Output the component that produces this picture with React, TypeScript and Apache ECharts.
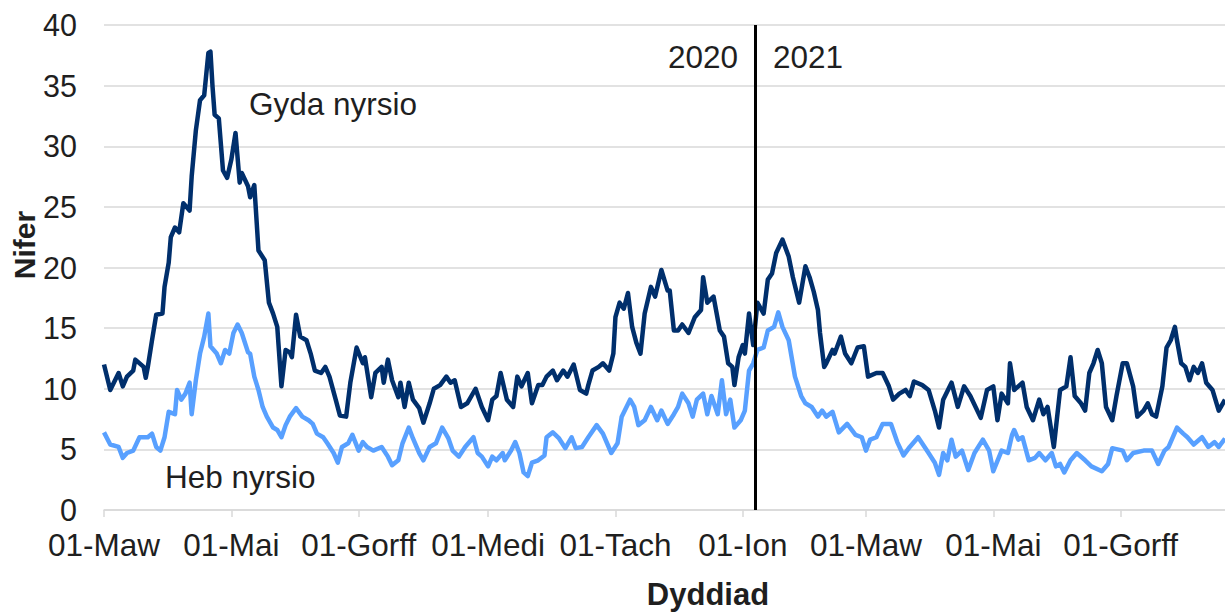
import React, { useEffect, useRef } from "react";
import * as echarts from "echarts";

// Start date of the daily axis and its length in days
const START_UTC = Date.UTC(2020, 2, 1);
const TOTAL_DAYS = 538;
const WELSH_MONTHS = ["Ion", "Chwef", "Maw", "Ebr", "Mai", "Meh", "Gorff", "Awst", "Medi", "Hyd", "Tach", "Rhag"];
const YEAR_SPLIT_DATE = "2021-01-07";

// Gyda nyrsio (with nursing) — days since 01-Mar-2020, values
const gydaDays = [0, 3, 7, 9, 11, 14, 15, 19, 20, 21, 23, 25, 28, 29, 31, 32, 34, 36, 38, 41, 42, 44, 46, 48, 50, 51, 52, 53, 55, 57, 59, 61, 63, 65, 66, 69, 70, 72, 74, 77, 79, 81, 83, 85, 87, 89, 90, 92, 94, 97, 99, 101, 104, 106, 108, 111, 113, 116, 118, 121, 124, 125, 128, 130, 133, 134, 136, 138, 141, 142, 144, 146, 148, 151, 153, 156, 158, 161, 164, 166, 168, 171, 174, 178, 181, 184, 186, 188, 190, 193, 196, 198, 200, 203, 205, 208, 210, 212, 215, 217, 220, 222, 225, 228, 231, 232, 234, 237, 239, 242, 244, 245, 247, 249, 251, 253, 255, 257, 259, 262, 264, 267, 270, 271, 273, 275, 277, 280, 283, 286, 287, 289, 292, 295, 297, 299, 301, 302, 304, 306, 307, 309, 311, 313, 316, 318, 320, 322, 325, 328, 330, 333, 336, 338, 340, 342, 343, 345, 346, 349, 350, 353, 355, 358, 361, 364, 366, 370, 373, 376, 378, 381, 384, 386, 388, 392, 395, 398, 400, 402, 406, 409, 412, 415, 420, 423, 426, 428, 430, 433, 434, 436, 440, 442, 445, 448, 450, 452, 455, 458, 461, 463, 465, 468, 470, 472, 474, 476, 478, 480, 483, 485, 488, 490, 493, 495, 498, 500, 502, 504, 507, 509, 511, 513, 514, 516, 518, 520, 522, 524, 526, 528, 531, 534, 537];
const gydaValues = [12.0, 9.9, 11.3, 10.2, 11.0, 11.5, 12.4, 11.8, 10.9, 11.8, 14.0, 16.1, 16.2, 18.4, 20.4, 22.5, 23.3, 22.9, 25.3, 24.7, 27.5, 31.3, 33.8, 34.2, 37.7, 37.8, 34.9, 32.6, 32.3, 28.0, 27.4, 28.9, 31.1, 27.0, 27.8, 26.7, 25.8, 26.8, 21.4, 20.6, 17.1, 16.2, 15.1, 10.2, 13.2, 13.0, 12.6, 16.1, 14.3, 14.0, 12.9, 11.5, 11.3, 11.8, 11.0, 9.1, 7.8, 7.7, 10.5, 13.4, 12.1, 12.6, 9.3, 11.3, 11.8, 10.5, 12.4, 10.7, 9.3, 10.5, 8.5, 10.5, 9.1, 8.4, 7.2, 8.8, 10.0, 10.3, 11.0, 10.5, 10.7, 8.5, 8.8, 10.0, 8.5, 7.4, 9.1, 9.4, 11.3, 9.1, 8.5, 11.0, 10.2, 11.3, 8.8, 10.3, 10.3, 11.0, 11.5, 10.7, 11.5, 11.0, 12.0, 9.9, 9.6, 10.3, 11.5, 11.8, 12.1, 11.5, 12.9, 15.9, 17.1, 16.6, 17.9, 15.1, 13.8, 12.9, 16.2, 18.4, 17.6, 19.8, 18.1, 18.1, 14.8, 14.8, 15.3, 14.6, 15.9, 16.5, 19.2, 17.1, 17.6, 14.8, 14.3, 12.1, 11.8, 10.3, 12.6, 13.6, 12.9, 16.2, 13.6, 17.1, 16.2, 19.0, 19.5, 21.2, 22.3, 20.9, 19.2, 17.1, 20.1, 19.2, 18.0, 16.5, 14.6, 11.8, 12.1, 13.2, 12.9, 14.3, 12.9, 12.1, 13.4, 13.5, 11.0, 11.3, 11.3, 10.2, 9.1, 9.6, 9.9, 9.4, 10.6, 10.3, 9.9, 8.2, 6.8, 9.1, 10.5, 8.5, 10.2, 9.4, 7.6, 9.9, 10.2, 7.4, 9.6, 8.8, 12.1, 9.9, 10.5, 8.5, 7.4, 9.1, 7.9, 8.5, 5.2, 9.9, 10.2, 12.6, 9.4, 8.8, 8.2, 11.3, 12.1, 13.2, 12.1, 8.5, 7.4, 9.4, 12.1, 12.1, 10.2, 7.7, 8.2, 8.8, 7.9, 7.7, 10.2, 13.4, 14.0, 15.1, 14.0, 12.1, 11.8, 10.7, 11.8, 11.3, 12.1, 10.5, 9.9, 8.2, 9.1];

// Heb nyrsio (without nursing) — days since 01-Mar-2020, values
const hebDays = [0, 3, 7, 9, 11, 14, 17, 21, 23, 25, 27, 29, 31, 34, 35, 37, 39, 41, 42, 44, 46, 48, 50, 51, 54, 56, 58, 60, 62, 64, 66, 69, 70, 72, 74, 76, 78, 81, 83, 85, 87, 89, 92, 95, 98, 100, 102, 105, 107, 110, 112, 114, 117, 119, 122, 124, 126, 129, 133, 136, 138, 141, 143, 146, 148, 151, 153, 156, 159, 162, 165, 167, 170, 173, 177, 179, 181, 184, 186, 188, 191, 192, 195, 197, 199, 201, 203, 205, 208, 211, 212, 215, 218, 221, 224, 226, 229, 232, 236, 239, 243, 246, 248, 252, 254, 256, 259, 262, 265, 267, 270, 273, 275, 277, 280, 282, 284, 287, 289, 291, 294, 296, 298, 300, 302, 305, 307, 309, 311, 313, 316, 318, 321, 323, 325, 328, 331, 334, 336, 339, 342, 344, 346, 349, 352, 356, 360, 363, 365, 367, 370, 373, 377, 380, 383, 386, 390, 395, 398, 400, 402, 404, 406, 408, 411, 414, 417, 421, 424, 426, 430, 433, 435, 436, 438, 440, 443, 446, 448, 451, 454, 456, 458, 460, 463, 466, 470, 473, 478, 481, 483, 488, 490, 493, 498, 502, 505, 508, 510, 514, 517, 519, 522, 526, 529, 532, 534, 537];
const hebValues = [6.4, 5.4, 5.2, 4.3, 4.7, 4.9, 6.0, 6.0, 6.3, 5.2, 4.9, 6.0, 8.1, 7.9, 9.9, 9.1, 9.6, 10.5, 7.9, 10.7, 12.9, 14.3, 16.2, 13.5, 12.9, 12.1, 13.2, 12.9, 14.6, 15.3, 14.6, 13.0, 12.9, 11.0, 9.9, 8.5, 7.7, 6.8, 6.6, 6.0, 7.0, 7.7, 8.4, 7.7, 7.4, 7.1, 6.3, 6.0, 5.5, 4.7, 3.9, 5.2, 5.5, 6.2, 4.9, 5.6, 5.2, 4.9, 5.2, 4.4, 3.7, 4.1, 5.5, 6.8, 5.9, 4.7, 4.1, 5.2, 5.5, 6.8, 5.9, 4.9, 4.4, 5.2, 6.0, 4.7, 4.4, 3.6, 4.4, 4.1, 4.7, 4.1, 4.9, 5.6, 4.7, 3.1, 2.8, 3.9, 4.1, 4.5, 6.0, 6.4, 5.9, 5.1, 6.0, 5.1, 5.2, 6.0, 7.0, 6.3, 4.7, 5.5, 7.7, 9.1, 8.5, 7.0, 7.4, 8.5, 7.4, 8.2, 7.1, 7.9, 8.5, 9.6, 8.8, 7.7, 9.1, 9.6, 7.9, 9.4, 7.9, 10.7, 7.9, 9.1, 6.8, 7.4, 8.2, 11.5, 12.1, 13.2, 13.4, 14.8, 15.1, 16.3, 15.1, 14.0, 11.0, 9.4, 8.8, 8.5, 7.7, 8.2, 7.7, 8.1, 6.4, 7.1, 6.2, 6.0, 4.9, 5.8, 6.0, 7.1, 7.1, 5.6, 4.5, 5.2, 6.0, 4.7, 3.9, 2.9, 4.7, 4.1, 5.8, 4.4, 4.9, 3.3, 4.7, 5.8, 4.9, 3.2, 4.9, 4.7, 6.2, 6.6, 5.8, 6.0, 4.1, 4.3, 4.7, 4.1, 4.7, 3.6, 3.8, 3.1, 4.1, 4.7, 4.1, 3.6, 3.2, 3.8, 5.1, 4.9, 4.1, 4.7, 4.9, 4.9, 3.8, 4.9, 5.2, 6.8, 6.3, 6.0, 5.4, 6.0, 5.2, 5.6, 5.2, 5.9];

const FONT = "'Liberation Sans', Arial, sans-serif";
const TEXT_COLOR = "#1f1f1f";
const DARK = "#002f6c";
const LIGHT = "#58a0ff";

function buildCategories(): string[] {
  const out: string[] = [];
  for (let i = 0; i < TOTAL_DAYS; i++) {
    out.push(new Date(START_UTC + i * 86400000).toISOString().slice(0, 10));
  }
  return out;
}

function isLabelDay(value: string): boolean {
  const d = new Date(value + "T00:00:00Z");
  return d.getUTCDate() === 1 && d.getUTCMonth() % 2 === 0;
}

export default function App() {
  const ref = useRef<HTMLDivElement>(null);

  useEffect(() => {
    if (!ref.current) return;
    const chart = echarts.init(ref.current, undefined, { renderer: "svg" });
    const categories = buildCategories();
    const splitIndex = categories.indexOf(YEAR_SPLIT_DATE);

    const option = {
      animation: false,
      backgroundColor: "#ffffff",
      grid: { left: 104, right: 0, top: 25, bottom: 102, containLabel: false },
      xAxis: {
        type: "category",
        data: categories,
        boundaryGap: false,
        axisLine: { show: true, lineStyle: { color: "#d9d9d9", width: 1.5 } },
        axisTick: {
          show: true,
          length: 7,
          interval: (_i: number, v: string) => isLabelDay(v),
          lineStyle: { color: "#d9d9d9", width: 1.5 },
        },
        axisLabel: {
          interval: (_i: number, v: string) => isLabelDay(v),
          formatter: (v: string) => {
            const d = new Date(v + "T00:00:00Z");
            return "01-" + WELSH_MONTHS[d.getUTCMonth()];
          },
          fontFamily: FONT,
          fontSize: 31.5,
          color: TEXT_COLOR,
          margin: 19,
          hideOverlap: false,
        },
        splitLine: { show: false },
      },
      yAxis: {
        type: "value",
        min: 0,
        max: 40,
        interval: 5,
        axisLine: { show: false },
        axisTick: { show: false },
        axisLabel: { fontFamily: FONT, fontSize: 30.5, color: TEXT_COLOR, margin: 27 },
        splitLine: { show: true, lineStyle: { color: "#d9d9d9", width: 1.5 } },
      },
      series: [
        {
          name: "Heb nyrsio",
          type: "line",
          data: hebDays.map((d, i) => [d, hebValues[i]]),
          showSymbol: false,
          symbol: "none",
          lineStyle: { color: LIGHT, width: 4.5, join: "round" },
          itemStyle: { color: LIGHT },
          z: 2,
        },
        {
          name: "Gyda nyrsio",
          type: "line",
          data: gydaDays.map((d, i) => [d, gydaValues[i]]),
          showSymbol: false,
          symbol: "none",
          lineStyle: { color: DARK, width: 4.5, join: "round" },
          itemStyle: { color: DARK },
          z: 3,
          markLine: {
            silent: true,
            symbol: ["none", "none"],
            label: { show: false },
            lineStyle: { color: "#000000", width: 3, type: "solid" },
            data: [{ xAxis: splitIndex }],
          },
        },
      ],
      graphic: [
        {
          type: "text",
          x: 24,
          y: 245,
          rotation: Math.PI / 2,
          style: { text: "Nifer", font: `bold 30px ${FONT}`, fill: TEXT_COLOR, align: "center", verticalAlign: "middle" },
        },
        {
          type: "text",
          x: 708,
          y: 594,
          style: { text: "Dyddiad", font: `bold 31px ${FONT}`, fill: TEXT_COLOR, align: "center", verticalAlign: "middle" },
        },
        {
          type: "text",
          x: 249,
          y: 104,
          style: { text: "Gyda nyrsio", font: `31.5px ${FONT}`, fill: TEXT_COLOR, align: "left", verticalAlign: "middle" },
        },
        {
          type: "text",
          x: 165,
          y: 477,
          style: { text: "Heb nyrsio", font: `31.5px ${FONT}`, fill: TEXT_COLOR, align: "left", verticalAlign: "middle" },
        },
        {
          type: "text",
          x: 738,
          y: 57,
          style: { text: "2020", font: `31.5px ${FONT}`, fill: TEXT_COLOR, align: "right", verticalAlign: "middle" },
        },
        {
          type: "text",
          x: 773,
          y: 57,
          style: { text: "2021", font: `31.5px ${FONT}`, fill: TEXT_COLOR, align: "left", verticalAlign: "middle" },
        },
      ],
    };

    chart.setOption(option as any);
    return () => {
      chart.dispose();
    };
  }, []);

  return (
    <div
      ref={ref}
      style={{ position: "absolute", left: 0, top: 0, width: 1225, height: 612, background: "#fff" }}
    />
  );
}
